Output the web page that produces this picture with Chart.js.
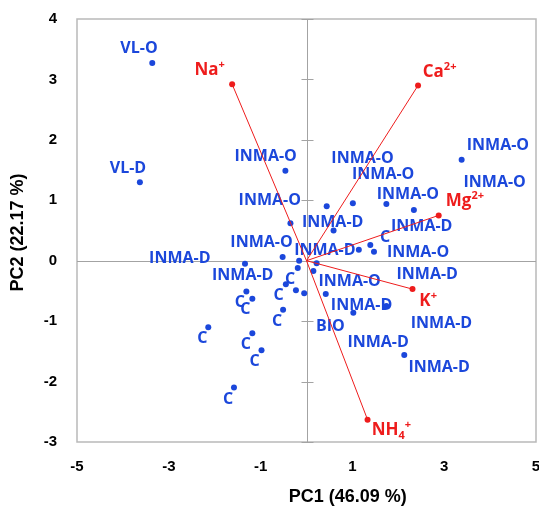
<!DOCTYPE html>
<html lang="en">
<head>
<meta charset="UTF-8">
<title>PCA biplot</title>
<script src="https://cdn.jsdelivr.net/npm/chart.js"></script>
<style>
  html, body { margin: 0; padding: 0; background: #fff; }
  #wrap { width: 539px; height: 512px; }
</style>
</head>
<body>
<div id="wrap"><canvas id="pca"></canvas></div>
<script>
// sample scores (PC1, PC2)
const sampleX = [-3.36, -3.63, -0.46, -0.35, -0.52, -1.34, -0.16, -0.19, 0.22, 0.15,
                 -0.45, -0.23, -0.05, 0.42, -1.31, -1.18, -0.51, -2.14, -1.18, -0.98,
                 -1.58, 1.02, 1.74, 2.13, 0.44, 1.01, 1.74, 2.34, 0.59, 1.14,
                 1.39, 1.47, 3.38];
const sampleY = [3.27, 1.30, 1.49, 0.62, 0.06, -0.05, 0.00, -0.12, -0.04, -0.17,
                 -0.39, -0.49, -0.54, -0.55, -0.51, -0.63, -0.81, -1.10, -1.20, -1.48,
                 -2.10, -0.86, -0.75, -1.56, 0.90, 0.95, 0.94, 0.84, 0.50, 0.18,
                 0.26, 0.15, 1.67];

// sample labels, where they sit in the figure (PC units, text centre)
const labelText = ['VL-O', 'VL-D', 'INMA-O', 'INMA-O', 'INMA-O', 'INMA-D', 'INMA-D',
                   'C', 'C', 'C', 'C', 'C', 'C', 'C', 'C', 'C',
                   'INMA-O', 'INMA-O', 'INMA-O', 'INMA-O', 'INMA-O', 'INMA-O', 'INMA-O',
                   'INMA-D', 'INMA-D', 'INMA-D', 'INMA-D', 'INMA-D', 'INMA-D', 'INMA-D', 'INMA-D',
                   'C', 'BIO'];
const labelX = [-3.65, -3.89, -0.89, -0.80, -0.98, -2.76, -1.39,
                -0.36, -0.61, -1.45, -1.33, -0.64, -2.27, -1.32, -1.13, -1.71,
                1.22, 1.67, 2.21, 4.17, 4.10, 2.43, 0.94,
                0.57, 2.51, 0.40, 2.63, 1.20, 1.56, 2.94, 2.89,
                1.71, 0.52];
const labelY = [3.54, 1.55, 1.75, 1.02, 0.32, 0.05, -0.22,
                -0.29, -0.56, -0.67, -0.79, -0.98, -1.27, -1.37, -1.65, -2.28,
                1.71, 1.44, 1.12, 1.93, 1.32, 0.15, -0.33,
                0.66, 0.58, 0.19, -0.20, -0.72, -1.34, -1.02, -1.74,
                0.40, -1.06];

// ion loadings
const ionName = ['Na', 'Ca', 'Mg', 'K', 'NH'];
const ionSub = ['', '', '', '', '4'];
const ionSup = ['+', '2+', '2+', '+', '+'];
const ionX = [-1.62, 2.43, 2.88, 2.31, 1.33];
const ionY = [2.92, 2.90, 0.75, -0.47, -2.63];
const ionLabelX = [-2.11, 2.90, 3.45, 2.65, 1.85];
const ionLabelY = [3.17, 3.14, 1.00, -0.65, -2.79];

const xTicks = [-5, -3, -1, 1, 3, 5];
const yTicks = [-3, -2, -1, 0, 1, 2, 3, 4];

const BLUE = '#1b47db';
const RED = '#ee1c1c';

// one red segment per ion, from the origin out to the loading
const ionSets = ionName.map((n, i) => ({
    type: 'scatter',
    data: [{x: 0, y: 0}, {x: ionX[i], y: ionY[i]}],
    showLine: true,
    borderColor: RED,
    borderWidth: 1,
    backgroundColor: RED,
    pointRadius: [0, 3],
    pointBorderWidth: 0
}));

const biplotDecor = {
    id: 'biplotDecor',
    beforeDatasetsDraw(chart) {
        const {ctx, chartArea: a, scales: {x, y}} = chart;
        ctx.save();
        // frame
        ctx.strokeStyle = '#b9b9b9';
        ctx.lineWidth = 1.5;
        ctx.strokeRect(a.left, a.top, a.right - a.left, a.bottom - a.top);
        // zero axes with cross ticks on PC2
        const x0 = Math.round(x.getPixelForValue(0)) + 0.5;
        const y0 = Math.round(y.getPixelForValue(0)) + 0.5;
        ctx.strokeStyle = '#a3a3a3';
        ctx.lineWidth = 1;
        ctx.beginPath();
        ctx.moveTo(a.left, y0); ctx.lineTo(a.right, y0);
        ctx.moveTo(x0, a.top); ctx.lineTo(x0, a.bottom);
        yTicks.forEach(v => {
            const py = Math.round(y.getPixelForValue(v)) + 0.5;
            ctx.moveTo(x0 - 6, py); ctx.lineTo(x0 + 6, py);
        });
        ctx.stroke();
        // sample labels
        ctx.font = 'bold 16px "Open Sans"';
        ctx.fillStyle = BLUE;
        ctx.textAlign = 'center';
        ctx.textBaseline = 'alphabetic';
        labelText.forEach((t, i) => {
            ctx.fillText(t, x.getPixelForValue(labelX[i]), y.getPixelForValue(labelY[i]) + 5.8);
        });
        ctx.restore();
    },
    afterDatasetsDraw(chart) {
        const {ctx, scales: {x, y}} = chart;
        const big = 'bold 17px "Open Sans"', small = 'bold 11px "Open Sans"';
        ctx.save();
        ctx.fillStyle = RED;
        ctx.textAlign = 'left';
        ctx.textBaseline = 'alphabetic';
        ionName.forEach((n, i) => {
            ctx.font = big;
            const wb = ctx.measureText(n).width;
            ctx.font = small;
            const ws = ctx.measureText(ionSub[i]).width;
            const wp = ctx.measureText(ionSup[i]).width;
            const w = wb + ws + wp;
            let px = x.getPixelForValue(ionLabelX[i]) - w / 2;
            const base = y.getPixelForValue(ionLabelY[i]) + 6;
            ctx.font = big;
            ctx.fillText(n, px, base);
            px += wb;
            ctx.font = small;
            if (ionSub[i]) { ctx.fillText(ionSub[i], px, base + 4); px += ws; }
            ctx.fillText(ionSup[i], px, base - 7);
        });
        ctx.restore();
    },
    afterDraw(chart) {
        const {ctx, chartArea: a} = chart;
        ctx.save();
        ctx.fillStyle = '#000';
        ctx.font = 'bold 18px "Liberation Sans"';
        ctx.textAlign = 'center';
        ctx.textBaseline = 'middle';
        ctx.fillText('PC1 (46.09 %)', a.left + (a.right - a.left) * 0.59, 497);
        ctx.translate(18, (a.top + a.bottom) / 2 + 2);
        ctx.rotate(-Math.PI / 2);
        ctx.fillText('PC2 (22.17 %)', 0, 0);
        ctx.restore();
    }
};

const tickFont = {family: 'Liberation Sans', size: 15, weight: 'bold'};

// keep the plot box fixed: no extra room for overhanging tick labels
function noEdgePadding(s) {
    s.paddingLeft = 0; s.paddingRight = 0;
    s.paddingTop = 0; s.paddingBottom = 0;
}

new Chart(document.getElementById('pca'), {
    type: 'scatter',
    data: {
        datasets: ionSets.concat([{
            data: sampleX.map((v, i) => ({x: v, y: sampleY[i]})),
            backgroundColor: BLUE,
            borderWidth: 0,
            pointRadius: 3
        }])
    },
    options: {
        responsive: true,
        maintainAspectRatio: false,
        animation: false,
        layout: {
            autoPadding: false,
            padding: {top: 19, right: 3, left: 0, bottom: 0}
        },
        plugins: {
            legend: {display: false},
            tooltip: {enabled: false}
        },
        scales: {
            x: {
                type: 'linear',
                min: -5,
                max: 5,
                afterBuildTicks: s => { s.ticks = xTicks.map(v => ({value: v})); },
                afterFit: s => { s.height = 70; noEdgePadding(s); },
                grid: {display: false, drawTicks: false},
                border: {display: false},
                ticks: {font: tickFont, color: '#000', padding: 16, maxRotation: 0}
            },
            y: {
                type: 'linear',
                min: -3,
                max: 4,
                afterBuildTicks: s => { s.ticks = yTicks.map(v => ({value: v})); },
                afterFit: s => { s.width = 77; noEdgePadding(s); },
                grid: {display: false, drawTicks: false},
                border: {display: false},
                ticks: {font: tickFont, color: '#000', padding: 20}
            }
        }
    },
    plugins: [biplotDecor]
});
</script>
</body>
</html>
